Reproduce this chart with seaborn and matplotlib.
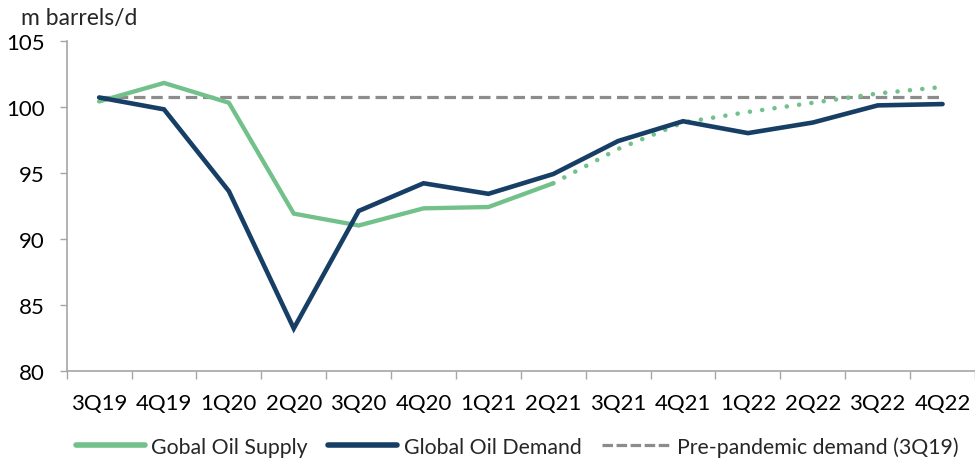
import matplotlib
matplotlib.use("Agg")
import matplotlib.pyplot as plt
import seaborn as sns
import pandas as pd
from matplotlib.lines import Line2D

# Quarterly global oil market balance, million barrels per day
quarters = ["3Q19", "4Q19", "1Q20", "2Q20", "3Q20", "4Q20", "1Q21",
            "2Q21", "3Q21", "4Q21", "1Q22", "2Q22", "3Q22", "4Q22"]
supply_actual = [100.4, 101.8, 100.3, 91.9, 91.0, 92.3, 92.4, 94.2]
supply_forecast = [94.2, 96.8, 98.8, 99.6, 100.3, 101.0, 101.5]   # from 2Q21 on
demand = [100.7, 99.8, 93.6, 83.2, 92.1, 94.2, 93.4, 94.9, 97.4, 98.9,
          98.0, 98.8, 100.1, 100.2]
pre_pandemic = 100.7

sns.set_style("white")
plt.rcParams["font.family"] = ["Lato", "DejaVu Sans"]

GREEN = "#72C08A"
NAVY = "#173F66"
GREY = "#8C8C8C"
AXIS = "#A6A6A6"
FS = 16

fig = plt.figure(figsize=(9.75, 4.6), dpi=100)
ax = fig.add_axes([0.0684, 0.192, 0.9316, 0.7173])

x_all = list(range(len(quarters)))
df_demand = pd.DataFrame({"x": x_all, "v": demand})
df_sup = pd.DataFrame({"x": x_all[:len(supply_actual)], "v": supply_actual})
start = len(supply_actual) - 1
df_fc = pd.DataFrame({"x": x_all[start:start + len(supply_forecast)], "v": supply_forecast})
df_pre = pd.DataFrame({"x": x_all, "v": [pre_pandemic] * len(quarters)})

sns.lineplot(data=df_pre, x="x", y="v", ax=ax, color=GREY, linewidth=2.3,
             dashes=False, zorder=2)
ax.lines[-1].set_dashes((3.6, 1.8))
sns.lineplot(data=df_sup, x="x", y="v", ax=ax, color=GREEN, linewidth=3.1,
             zorder=3)
sns.lineplot(data=df_fc, x="x", y="v", ax=ax, color=GREEN, linewidth=3.3,
             zorder=3)
fc_line = ax.lines[-1]
fc_line.set_dashes((0.01, 2.7))
fc_line.set_dash_capstyle("round")
sns.lineplot(data=df_demand, x="x", y="v", ax=ax, color=NAVY, linewidth=3.3,
             zorder=4)
for ln in ax.lines:
    ln.set_solid_joinstyle("miter")

ax.set_xlim(-0.5, len(quarters) - 0.5)
ax.set_ylim(80, 105)
ax.set_yticks([80, 85, 90, 95, 100, 105])
ax.set_xticks(x_all)
ax.set_xticklabels(quarters)
ax.set_xticks([i - 0.5 for i in range(len(quarters) + 1)], minor=True)
ax.set_xlabel("")
ax.set_ylabel("")

for s in ["top", "right"]:
    ax.spines[s].set_visible(False)
for s in ["left", "bottom"]:
    ax.spines[s].set_color(AXIS)
    ax.spines[s].set_linewidth(1.2)

ax.tick_params(axis="x", which="major", length=0, pad=16, labelsize=FS,
               labelcolor="#000000")
ax.tick_params(axis="x", which="minor", length=5.5, width=1.0, color=AXIS,
               direction="out", bottom=True)
ax.tick_params(axis="y", which="major", length=5, width=1.0, color=AXIS,
               direction="out", left=True, pad=11, labelsize=FS,
               labelcolor="#000000")

fig.text(0.022, 0.945, "m barrels/d", fontsize=16.5, ha="left", va="baseline")

handles = [
    Line2D([], [], color=GREEN, linewidth=4.0, solid_capstyle="round"),
    Line2D([], [], color=NAVY, linewidth=4.0, solid_capstyle="round"),
    Line2D([], [], color=GREY, linewidth=2.3, dashes=(3.3, 1.1)),
]
labels = ["Gobal Oil Supply", "Global Oil Demand", "Pre-pandemic demand (3Q19)"]
fig.legend(handles, labels, loc="center left", bbox_to_anchor=(0.078, 0.027),
           ncol=3, frameon=False, fontsize=15.3, handlelength=3.25,
           handletextpad=0.3, columnspacing=0.95, borderaxespad=0,
           borderpad=0)

fig.savefig("out.png", dpi=100)
